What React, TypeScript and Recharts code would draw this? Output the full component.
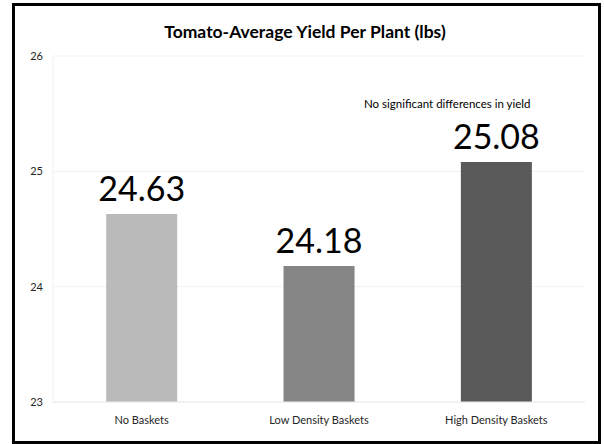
import { Bar, BarChart, CartesianGrid, Cell, LabelList, XAxis, YAxis } from 'recharts'

const categories = ['No Baskets', 'Low Density Baskets', 'High Density Baskets']
const yieldValues = [24.63, 24.18, 25.08]
const barColors = ['#bababa', '#858585', '#5a5a5a']
const yTicks = [23, 24, 25, 26]

const FONT = 'Lato, "Open Sans", sans-serif'

const chartData = categories.map((name, i) => ({ name, value: yieldValues[i] }))

export default function App() {
  return (
    <div style={{ position: 'absolute', left: 0, top: 0, width: 604, height: 444, background: '#fff', fontFamily: FONT }}>
      <BarChart
        width={604}
        height={444}
        data={chartData}
        margin={{ top: 56, right: 19, left: 28, bottom: 12 }}
        barCategoryGap="30%"
      >
        <CartesianGrid vertical={false} stroke="#f0f0f0" />
        <XAxis
          dataKey="name"
          height={30}
          tickLine={false}
          axisLine={{ stroke: '#ececec' }}
          tickMargin={8}
          tick={{ fill: '#262626', fontSize: 11, fontFamily: FONT }}
          interval={0}
        />
        <YAxis
          domain={[23, 26]}
          ticks={yTicks}
          width={25}
          tickLine={false}
          axisLine={{ stroke: '#f0f0f0' }}
          tickMargin={4}
          tick={{ fill: '#262626', fontSize: 11, fontFamily: FONT }}
          allowDataOverflow
        />
        <Bar dataKey="value" isAnimationActive={false}>
          {chartData.map((d, i) => (
            <Cell key={d.name} fill={barColors[i]} />
          ))}
          <LabelList
            dataKey="value"
            position="top"
            offset={13}
            formatter={(v: number) => v.toFixed(2)}
            style={{ fontSize: 34, fill: '#000', fontFamily: FONT }}
          />
        </Bar>
      </BarChart>
      <div
        style={{
          position: 'absolute',
          left: 0,
          width: 610,
          top: 21,
          textAlign: 'center',
          fontWeight: 'bold',
          fontSize: 17.5,
          color: '#000',
        }}
      >
        Tomato-Average Yield Per Plant (lbs)
      </div>
      <div style={{ position: 'absolute', left: 364, top: 97, fontSize: 11.5, color: '#000', whiteSpace: 'nowrap' }}>
        No significant differences in yield
      </div>
      <div
        style={{
          position: 'absolute',
          left: 12,
          top: 3,
          width: 583,
          height: 435,
          border: '3px solid #000',
          pointerEvents: 'none',
        }}
      />
    </div>
  )
}
